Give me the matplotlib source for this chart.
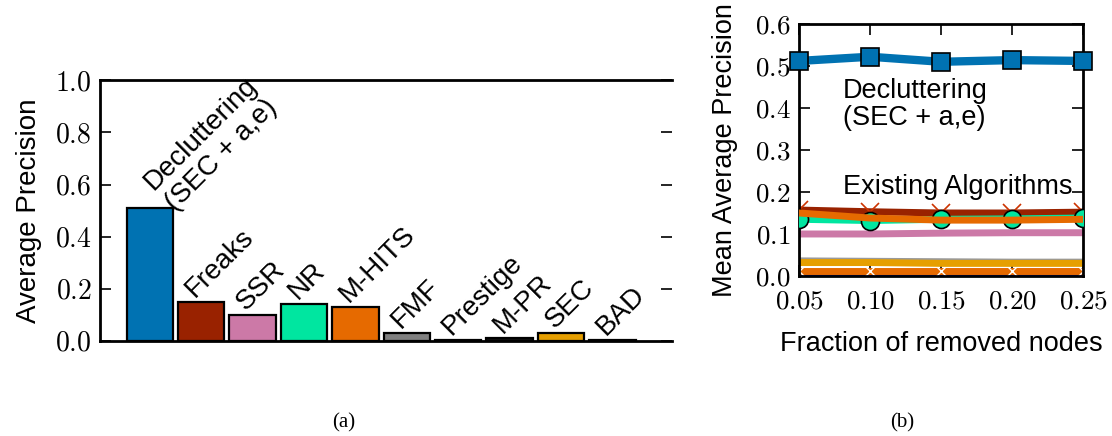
import matplotlib
matplotlib.use("Agg")
import matplotlib.pyplot as plt
from matplotlib.ticker import FuncFormatter, MultipleLocator

plt.rcParams["font.family"] = ["Liberation Sans", "DejaVu Sans"]
plt.rcParams["mathtext.fontset"] = "cm"

# ---- (a) bar chart data ----
methods = ["Decluttering\n(SEC + a,e)", "Freaks", "SSR", "NR", "M-HITS",
           "FMF", "Prestige", "M-PR", "SEC", "BAD"]
avg_precision = [0.51, 0.15, 0.10, 0.14, 0.13, 0.03, 0.002, 0.01, 0.03, 0.003]
bar_colors = ["#0072B2", "#992200", "#CC79A7", "#00E6A0", "#E66A00",
              "#808080", "#0000FF", "#111111", "#E69F00", "#0000FF"]

# ---- (b) line chart data ----
fractions = [0.05, 0.10, 0.15, 0.20, 0.25]
map_declutter = [0.512, 0.522, 0.510, 0.514, 0.512]
map_freaks = [0.157, 0.153, 0.150, 0.150, 0.152]
map_nr = [0.135, 0.132, 0.135, 0.136, 0.138]
map_mhits = [0.150, 0.138, 0.133, 0.133, 0.135]
map_ssr = [0.100, 0.100, 0.102, 0.103, 0.103]
map_fmf = [0.036, 0.035, 0.034, 0.033, 0.033]
map_sec = [0.032, 0.032, 0.030, 0.030, 0.030]
map_mpr = [0.013, 0.013, 0.013, 0.013, 0.013]
map_bad = [0.003, 0.003, 0.003, 0.003, 0.003]

FS_A = 20
FS_B = 19.5


def cm_fmt(decimals):
    return FuncFormatter(lambda v, p: f"${v:.{decimals}f}$")


def style_axes(ax, fs):
    for s in ax.spines.values():
        s.set_linewidth(2)
    ax.tick_params(direction="in", length=8, width=1.2, top=True, right=True,
                   labelsize=fs, pad=6)


fig = plt.figure(figsize=(11.12, 4.36), dpi=100)

# (a)
ax1 = fig.add_axes([0.0899, 0.218, 0.514, 0.598])
xs = list(range(len(methods)))
ax1.bar(xs, avg_precision, width=0.9, color=bar_colors, edgecolor="black",
        linewidth=1.6, zorder=3)
for x, v, name in zip(xs, avg_precision, methods):
    if "\n" in name:
        ax1.text(x - 0.2, v - 0.03, name, rotation=45, ha="left",
                 va="bottom", fontsize=FS_A, linespacing=1.2)
    else:
        ax1.text(x - 0.4, v, name, rotation=45, ha="left", va="bottom",
                 fontsize=FS_A)
ax1.set_xlim(-0.97, 10.15)
ax1.set_ylim(0, 1.0)
ax1.yaxis.set_major_locator(MultipleLocator(0.2))
ax1.yaxis.set_major_formatter(cm_fmt(1))
ax1.set_xticks([])
ax1.set_ylabel("Average Precision", fontsize=FS_A, labelpad=9)
style_axes(ax1, FS_A)
ax1.tick_params(top=False, bottom=False)
ax1.spines["right"].set_visible(False)

# (b)
ax2 = fig.add_axes([0.7185, 0.367, 0.2555, 0.578])
ax2.plot(fractions, map_bad, color="#0000FF", lw=4, zorder=2)
ax2.plot(fractions, map_mpr, color="#E66A00", lw=5, marker="x", ms=10,
         mec="#FFFFFF", mew=1, zorder=2)
ax2.plot(fractions, map_fmf, color="#999999", lw=5, zorder=2)
ax2.plot(fractions, map_sec, color="#E69F00", lw=5, zorder=2)
ax2.plot(fractions, map_ssr, color="#CC79A7", lw=5, zorder=2)
ax2.plot(fractions, map_nr, color="#00E6A0", lw=5, marker="o", ms=13,
         mec="black", mew=1.2, zorder=3)
ax2.plot(fractions, map_freaks, color="#992200", lw=5, marker="x", ms=13,
         mec="#CC3300", mew=1.2, zorder=2)
ax2.plot(fractions, map_mhits, color="#E66A00", lw=5, zorder=4)
ax2.plot(fractions, map_declutter, color="#0072B2", lw=6, marker="s", ms=13,
         mec="black", mew=1.2, zorder=5, clip_on=False)
ax2.text(0.081, 0.36, "Decluttering\n(SEC + a,e)", fontsize=FS_B,
         ha="left", va="baseline", linespacing=1.05)
ax2.text(0.081, 0.195, "Existing Algorithms", fontsize=FS_B,
         ha="left", va="baseline")
ax2.set_xlim(0.05, 0.25)
ax2.set_ylim(0, 0.6)
ax2.xaxis.set_major_locator(MultipleLocator(0.05))
ax2.yaxis.set_major_locator(MultipleLocator(0.1))
ax2.xaxis.set_major_formatter(cm_fmt(2))
ax2.yaxis.set_major_formatter(cm_fmt(1))
ax2.set_xlabel("Fraction of removed nodes", fontsize=FS_B, labelpad=12)
ax2.set_ylabel("Mean Average Precision", fontsize=FS_B, labelpad=12)
style_axes(ax2, FS_B)
ax2.tick_params(axis="x", pad=9)

fig.text(0.309, 0.03, "(a)", family="Liberation Serif", fontsize=15,
         ha="center", va="center")
fig.text(0.811, 0.03, "(b)", family="Liberation Serif", fontsize=15,
         ha="center", va="center")

fig.savefig("out.png", dpi=100)
